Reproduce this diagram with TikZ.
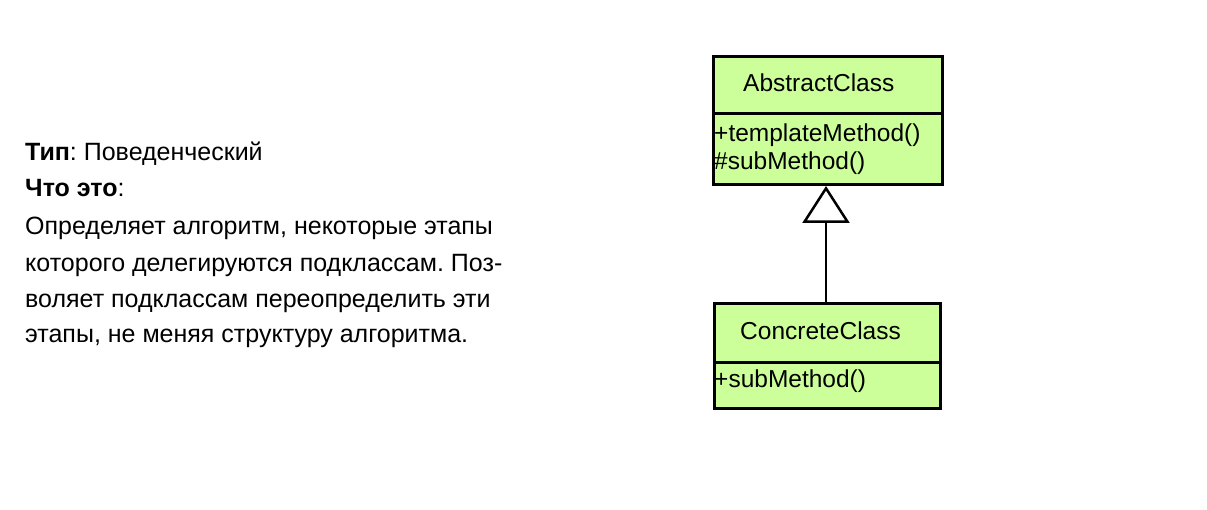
\documentclass[tikz,border=0pt]{standalone}
\usepackage{fontspec}
\setmainfont{Liberation Sans}
\usetikzlibrary{arrows.meta}
\definecolor{umlfill}{RGB}{204,255,153}
\begin{document}
\frenchspacing
\begin{tikzpicture}[x=1pt,y=-1pt,
  txt/.style={anchor=base west,inner sep=0pt,font=\fontsize{25}{29}\selectfont},
  umltxt/.style={anchor=base west,inner sep=0pt,font=\fontsize{24.5}{28}\selectfont},
  cls/.style={draw=black,line width=3pt,fill=umlfill,anchor=north west,inner sep=0pt,minimum width=#1},
  divider/.style={line width=3pt},
  gen/.style={line width=2pt,-{Triangle[open,length=37pt,width=47pt,fill=white,line width=2.5pt]}}]
\useasboundingbox (0,0) rectangle (1207,510);
% left description
\node[txt] (l1) at (25,161) {\textbf{Тип}: Поведенческий};
\node[txt] (l2) at (25,197) {\textbf{Что это}:};
\node[txt] (l3) at (25,235) {Определяет алгоритм, некоторые этапы};
\node[txt] (l4) at (25,272) {которого делегируются подклассам. Поз-};
\node[txt] (l5) at (25,308) {воляет подклассам переопределить эти};
\node[txt] (l6) at (25,343) {этапы, не меняя структуру алгоритма.};
% UML
\node[cls=229pt,minimum height=128pt] (ac) at (712,55) {};
\node[cls=226pt,minimum height=105pt] (cc) at (713,302) {};
\draw[divider] (ac.west |- 0,114) -- (ac.east |- 0,114);
\draw[divider] (cc.west |- 0,363) -- (cc.east |- 0,363);
\node[umltxt] (acn) at (743,92) {AbstractClass};
\node[umltxt] (acm1) at (714,142) {+templateMethod()};
\node[umltxt] (acm2) at (714,170) {\#subMethod()};
\node[umltxt] (ccn) at (740,340) {ConcreteClass};
\node[umltxt] (ccm1) at (714,388) {+subMethod()};
\draw[gen] (cc.north -| 826,0) -- (ac.south -| 826,0);
\end{tikzpicture}
\end{document}
